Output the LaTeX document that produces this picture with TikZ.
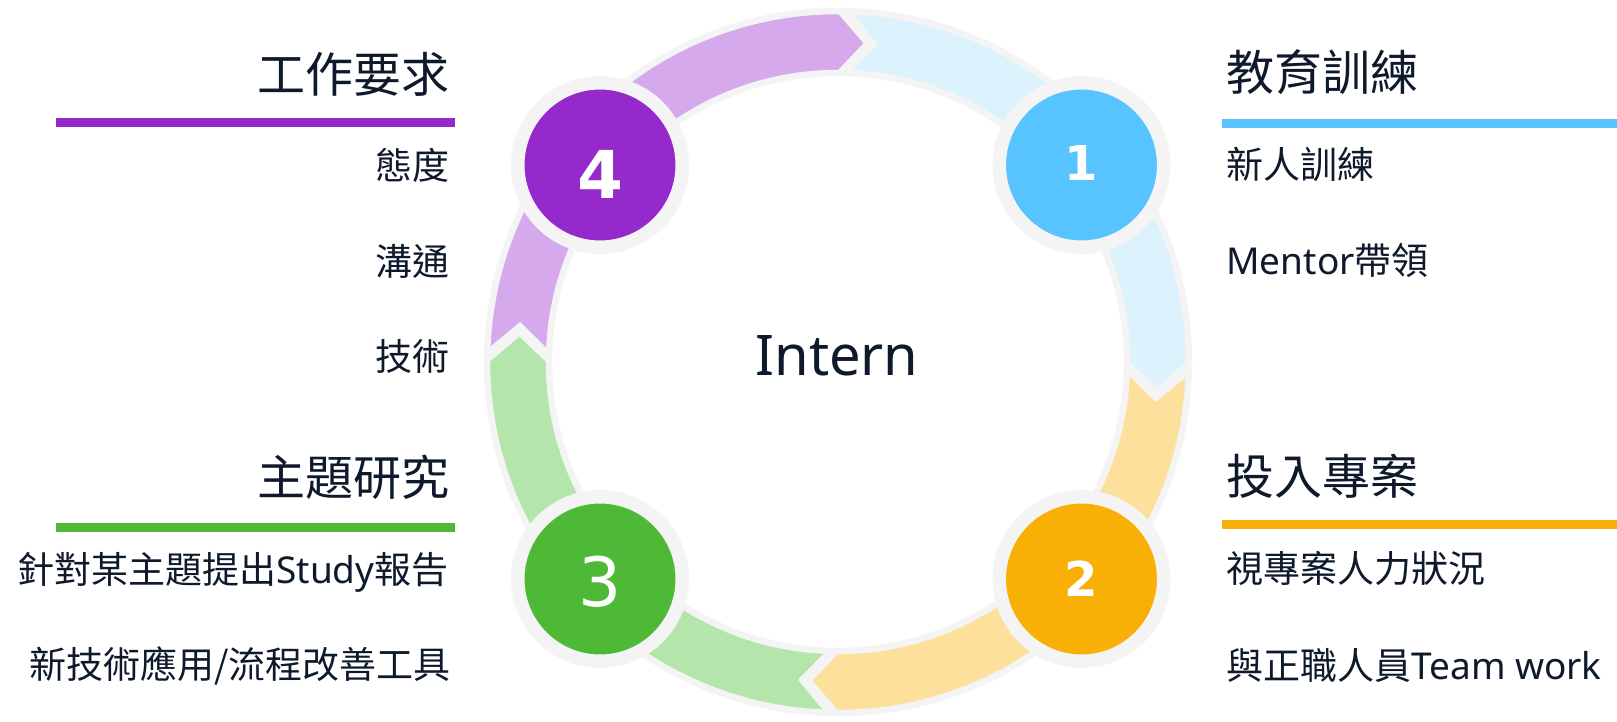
\documentclass[tikz,border=0pt]{standalone}
\usepackage{fontspec}
\setmainfont{Noto Sans}
\newfontfamily\cjk{Noto Sans CJK TC}
\newfontfamily\numfont{DejaVu Sans}
\usepackage{tikz}
\usetikzlibrary{calc}
\usepackage{xcolor}

\definecolor{ink}{HTML}{0E1A2B}
\definecolor{ringgray}{HTML}{F4F4F4}
\definecolor{blue1}{HTML}{57C4FF}
\definecolor{blue2}{HTML}{DCF2FD}
\definecolor{orange1}{HTML}{F8B006}
\definecolor{orange2}{HTML}{FCE09B}
\definecolor{green1}{HTML}{4DB937}
\definecolor{green2}{HTML}{B4E5AB}
\definecolor{purple1}{HTML}{9629CB}
\definecolor{purple2}{HTML}{D5A9EC}

\newcommand{\zh}[1]{{\cjk #1}}

\tikzset{
  numcirc/.style={circle, draw=ringgray, line width=6.75pt, minimum size=82.25pt, inner sep=0pt, text height=0pt, text depth=0pt, text=white, font=\numfont\bfseries\fontsize{24}{24}\selectfont},
  headtxt/.style={inner sep=0pt, text=ink, text height=20pt, text depth=1.7pt, font=\fontsize{24}{28}\selectfont},
  itemtxt/.style={inner sep=0pt, text=ink, text height=15.4pt, text depth=1.3pt, font=\fontsize{18.5}{22}\selectfont},
  bar/.style={line width=4.5pt},
}

\begin{document}
\begin{tikzpicture}[x=0.5pt, y=0.5pt]
\useasboundingbox (0,0) rectangle (1617,722);

\coordinate (c) at (838,360);

% ring of four arrows, clockwise
\foreach \a/\col in {180/purple2, 90/blue2, 0/orange2, -90/green2}{
  \filldraw[fill=\col, draw=ringgray, line width=3.25pt]
    ($(c)+(\a-1.4:351)$) arc[start angle=\a-1.4, end angle=\a-90.35, radius=351]
    -- ($(c)+(\a-95.35:320)$) -- ($(c)+(\a-90.35:289)$)
    arc[start angle=\a-90.35, end angle=\a-1.4, radius=289]
    -- ($(c)+(\a-6.4:320)$) -- cycle;
}

\node[numcirc, fill=blue1] (k1) at (1081.5,557) {\raisebox{-8pt}{1}};
\node[numcirc, fill=orange1] (k2) at (1081.5,143) {\raisebox{-9pt}{2}};
\node[numcirc, fill=green1, font=\numfont\fontsize{34}{34}\selectfont] (k3) at (600,143) {\raisebox{-14pt}{3}};
\node[numcirc, fill=purple1, font=\numfont\bfseries\fontsize{33}{33}\selectfont] (k4) at (600,557) {\raisebox{-17pt}{4}};

\node[text=ink, font=\fontsize{28}{30}\selectfont] (intern) at (837,366) {Intern};

% right side
\node[headtxt, anchor=west] (t1) at (1226,649.5) {\zh{教育訓練}};
\coordinate (b1a) at (1222,598.5);
\coordinate (b1b) at (1617,598.5);
\draw[bar, blue1] (b1a) -- (b1b);
\node[itemtxt, anchor=west] (t1a) at (1226,558) {\zh{新人訓練}};
\node[itemtxt, anchor=west] (t1b) at (1226,462) {Mentor\zh{帶領}};

\node[headtxt, anchor=west] (t2) at (1226,246) {\zh{投入專案}};
\coordinate (b2a) at (1222,197.5);
\coordinate (b2b) at (1617,197.5);
\draw[bar, orange1] (b2a) -- (b2b);
\node[itemtxt, anchor=west] (t2a) at (1226,154) {\zh{視專案人力狀況}};
\node[itemtxt, anchor=west] (t2b) at (1226,57) {\zh{與正職人員}Team work};

% left side
\node[headtxt, anchor=east] (t4) at (450,648) {\zh{工作要求}};
\coordinate (b4a) at (56,599.5);
\coordinate (b4b) at (455,599.5);
\draw[bar, purple1] (b4a) -- (b4b);
\node[itemtxt, anchor=east] (t4a) at (450,557) {\zh{態度}};
\node[itemtxt, anchor=east] (t4b) at (450,461) {\zh{溝通}};
\node[itemtxt, anchor=east] (t4c) at (450,366) {\zh{技術}};

\node[headtxt, anchor=east] (t3) at (450,244.5) {\zh{主題研究}};
\coordinate (b3a) at (56,194.5);
\coordinate (b3b) at (455,194.5);
\draw[bar, green1] (b3a) -- (b3b);
\node[itemtxt, anchor=east] (t3a) at (449,153) {\zh{針對某主題提出}Study\zh{報告}};
\node[itemtxt, anchor=east] (t3b) at (451,58) {\zh{新技術應用/流程改善工具}};

\end{tikzpicture}
\end{document}
